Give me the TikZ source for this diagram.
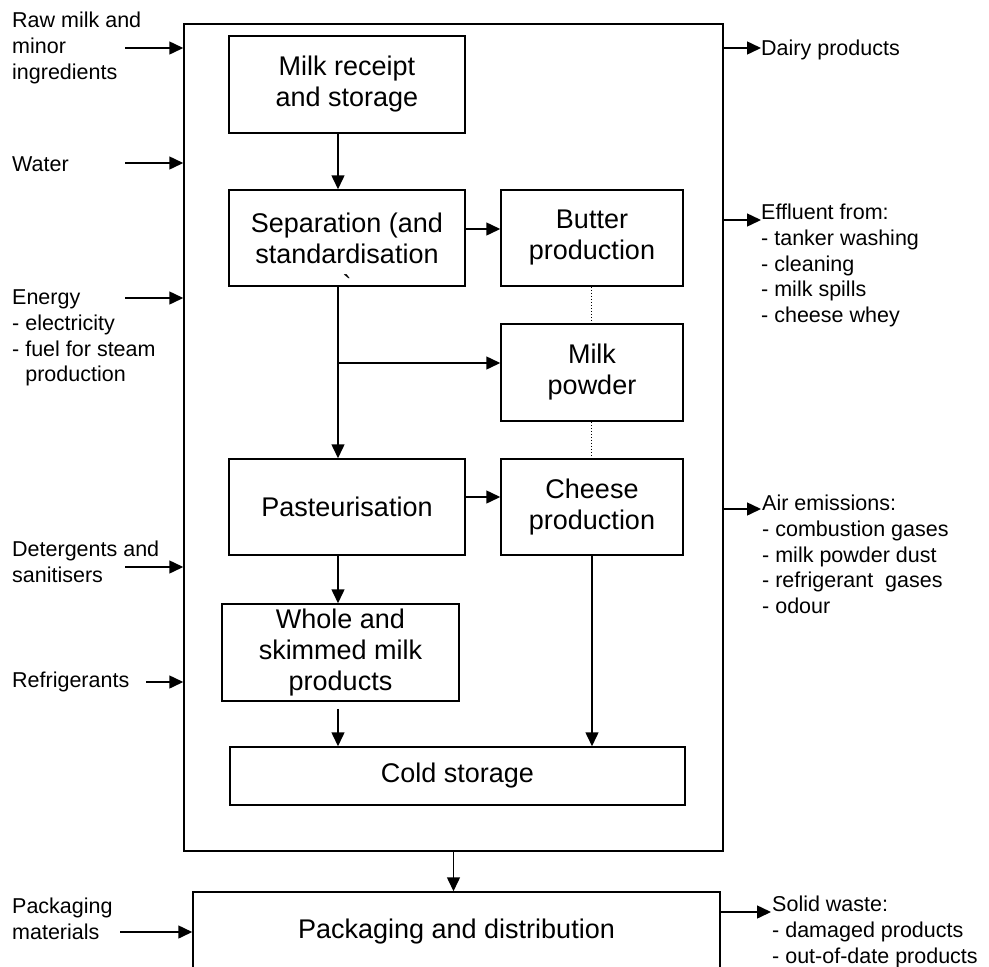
\documentclass[tikz,border=0pt]{standalone}
\usepackage{fontspec}
\setmainfont{Liberation Sans}
\usepackage{tikz}
\usetikzlibrary{arrows.meta,positioning,calc}
\newcommand{\boxfont}{\fontsize{27}{31}\selectfont}
\newcommand{\sidefont}{\fontsize{21.5}{25.7}\selectfont}
\tikzset{
  procbox/.style={draw, line width=1.5pt, align=center, font=\boxfont, inner sep=1pt},
  flow/.style={-{Triangle[length=14pt,width=13pt]}, line width=1.5pt},
  sidetext/.style={align=left, font=\sidefont, inner sep=0pt},
  link/.style={dotted, line width=1pt}
}

\begin{document}
\begin{tikzpicture}[x=1pt, y=-1pt]
    \useasboundingbox (0,0) rectangle (989,967);
    \clip (0,0) rectangle (989,967);
    % plant boundary
    \node[draw, line width=1.5pt, minimum width=539pt, minimum height=827pt] (plant) at (453.5,437.5) {};
    % process steps
    \node[procbox, minimum width=236pt, minimum height=97pt] (receipt) at (347,84.5) {Milk receipt\\and storage};
    \node[procbox, minimum width=236pt, minimum height=96pt] (sep) at (347,238) {Separation (and\\standardisation};
    \node[font=\boxfont, inner sep=0pt] (septick) at (347,285) {\textasciigrave};
    \node[procbox, minimum width=182pt, minimum height=96pt] (butter) at (592,238) {Butter\\production};
    \node[procbox, minimum width=182pt, minimum height=97pt] (powder) at (592,372.5) {Milk\\powder};
    \node[procbox, minimum width=182pt, minimum height=96pt] (cheese) at (592,507) {Cheese\\production};
    \node[procbox, minimum width=236pt, minimum height=96pt] (past) at (347,507) {Pasteurisation};
    \node[procbox, minimum width=237pt, minimum height=97pt] (whole) at (340.5,652.5) {Whole and\\skimmed milk\\products};
    \node[procbox, minimum width=455pt, minimum height=58pt] (cold) at (457.5,776) {Cold storage};
    \node[procbox, minimum width=527pt, minimum height=80pt] (pack) at (456.5,932) {Packaging and distribution};
    % internal flows
    \coordinate (spine) at (338,0);
    \coordinate (branch) at (338,363);
    \draw[flow] (receipt.south -| spine) -- (sep.north -| spine);
    \draw[flow] ([yshift=9pt]sep.east) -- ([yshift=9pt]butter.west);
    \draw[flow] (sep.south -| spine) -- (past.north -| spine);
    \draw[flow] (branch) -- (branch -| powder.west);
    \draw[flow] ([yshift=10pt]past.east) -- ([yshift=10pt]cheese.west);
    \draw[flow] (past.south -| spine) -- (whole.north -| spine);
    \draw[flow] ([yshift=-7pt]whole.south -| spine) -- (cold.north -| spine);
    \draw[flow] (cheese.south) -- (cheese.south |- cold.north);
    \draw[link] ([xshift=-1pt]butter.south) -- ([xshift=-1pt]powder.north);
    \draw[link] ([xshift=-1pt]powder.south) -- ([xshift=-1pt]cheese.north);
    \draw[flow] (plant.south) -- (plant.south |- pack.north);
    % inputs
    \node[sidetext, anchor=west] (raw) at (12,48) {Raw milk and\\minor\\ingredients};
    \node[sidetext, anchor=west] (water) at (12,164) {Water};
    \node[sidetext, anchor=west] (energy) at (12,338) {Energy\\- electricity\\- fuel for steam\\\phantom{- }production};
    \node[sidetext, anchor=west] (deterg) at (12,561.5) {Detergents and\\sanitisers};
    \node[sidetext, anchor=west] (refrig) at (12,682) {Refrigerants};
    \node[sidetext, anchor=west] (packmat) at (12,919) {Packaging\\materials};
    \coordinate (inRaw) at (125,48);
    \coordinate (inWater) at (125,163);
    \coordinate (inEnergy) at (125,298);
    \coordinate (inDeterg) at (125,567);
    \coordinate (inRefrig) at (146,682);
    \coordinate (inPack) at (120,932);
    \draw[flow] (inRaw) -- (inRaw -| plant.west);
    \draw[flow] (inWater) -- (inWater -| plant.west);
    \draw[flow] (inEnergy) -- (inEnergy -| plant.west);
    \draw[flow] (inDeterg) -- (inDeterg -| plant.west);
    \draw[flow] (inRefrig) -- (inRefrig -| plant.west);
    \draw[flow] (inPack) -- (inPack -| pack.west);
    % outputs
    \node[sidetext, anchor=west] (dairy) at (761,50) {Dairy products};
    \node[sidetext, anchor=west] (effluent) at (761,265.5) {Effluent from:\\- tanker washing\\- cleaning\\- milk spills\\- cheese whey};
    \node[sidetext, anchor=west] (air) at (762,554.5) {Air emissions:\\- combustion gases\\- milk powder dust\\- refrigerant\ \ gases\\- odour};
    \node[sidetext, anchor=west] (solid) at (772,932) {Solid waste:\\- damaged products\\- out-of-date products};
    \coordinate (outDairy) at (761,48);
    \coordinate (outEffluent) at (761,220);
    \coordinate (outAir) at (761,509);
    \coordinate (outSolid) at (771,912);
    \draw[flow] (outDairy -| plant.east) -- (outDairy);
    \draw[flow] (outEffluent -| plant.east) -- (outEffluent);
    \draw[flow] (outAir -| plant.east) -- (outAir);
    \draw[flow] (outSolid -| pack.east) -- (outSolid);
\end{tikzpicture}
\end{document}
